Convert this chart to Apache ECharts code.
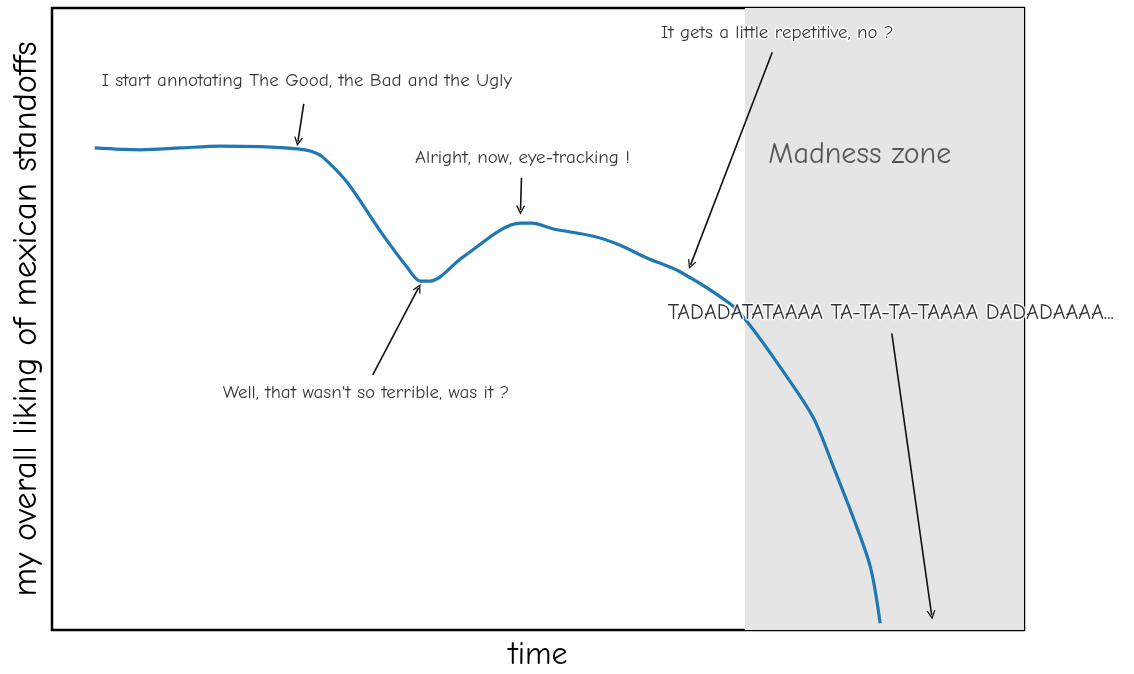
<!DOCTYPE html>
<html>
<head>
<meta charset="utf-8">
<script src="https://cdn.jsdelivr.net/npm/echarts@6/dist/echarts.min.js"></script>
<style>
html,body{margin:0;padding:0;background:#fff;}
#chart{width:1134px;height:674px;}
</style>
</head>
<body>
<div id="chart"></div>
<script>
// ---- data ----
const timeValues = [4.4, 9.1, 13.2, 17.3, 21.4, 25.5, 26.8, 27.8, 30.4, 33.7, 36.5, 37.9, 38.9, 42.3, 48.2, 49.4, 51.5, 55.7, 58.4, 61.2, 64.6, 69.8, 71.6, 74.9, 78.3, 80.4, 82.4, 84.2, 85.2];
const likingValues = [77.5, 77.2, 77.5, 77.8, 77.7, 77.3, 76.9, 76.1, 71.9, 64.3, 58.4, 56.1, 56.1, 60.0, 65.4, 65.4, 64.5, 63.3, 61.9, 59.8, 57.6, 52.4, 49.4, 42.3, 34.2, 26.2, 18.2, 10.1, 1.1];
const madnessStart = 71.3;
const madnessEnd = 100;
const madnessLabel = 'Madness zone';
const madnessLabelPos = [83.1, 76.4];

const noteTexts = [
  'I start annotating The Good, the Bad and the Ugly',
  'Alright, now, eye-tracking !',
  "Well, that wasn't so terrible, was it ?",
  'It gets a little repetitive, no ?',
  'TADADATATAAAA TA-TA-TA-TAAAA DADADAAAA...'
];
const noteX = [26.2, 48.4, 32.3, 74.6, 86.3];
const noteY = [88.4, 75.9, 38.1, 96.0, 51.0];
const arrowFromX = [25.9, 48.3, 33.0, 74.1, 86.4];
const arrowFromY = [84.6, 72.7, 41.0, 92.9, 47.7];
const arrowToX = [25.3, 48.2, 37.7, 65.7, 90.5];
const arrowToY = [78.5, 67.5, 55.0, 58.7, 2.4];

const xTitle = 'time';
const yTitle = 'my overall liking of mexican standoffs';

// ---- chart ----
const FONT = '"Comic Sans MS", "Comic Neue", "Humor Sans", Lato, sans-serif';
const chevron = 'path://M0,10 L5,0 L10,10 L8.4,10 L5,3.2 L1.6,10 Z';

const linePoints = timeValues.map((t, i) => [t, likingValues[i]]);

const noteData = noteTexts.map((txt, i) => ({ value: [noteX[i], noteY[i]], name: txt }));
noteData[4].label = { fontSize: 22 };
noteData.push({
  value: madnessLabelPos, name: madnessLabel,
  label: { fontSize: 30, color: '#333', textBorderWidth: 0 }
});

const arrowData = noteTexts.map((_, i) => ({
  coords: [[arrowFromX[i], arrowFromY[i]], [arrowToX[i], arrowToY[i]]]
}));

const chart = echarts.init(document.getElementById('chart'));
chart.setOption({
  animation: false,
  backgroundColor: '#fff',
  textStyle: { fontFamily: FONT },
  grid: {
    left: 52, right: 110, top: 8, bottom: 44,
    outerBoundsMode: 'none', containLabel: false,
    show: true, borderColor: '#000', borderWidth: 2.5, backgroundColor: 'transparent'
  },
  xAxis: {
    type: 'value', min: 0, max: 100,
    name: xTitle, nameLocation: 'middle', nameGap: 9,
    nameTextStyle: { fontSize: 32, color: '#000', fontFamily: FONT, verticalAlign: 'top' },
    axisLine: { show: false }, axisTick: { show: false }, axisLabel: { show: false },
    splitLine: { show: false }
  },
  yAxis: {
    type: 'value', min: 0, max: 100,
    name: yTitle, nameLocation: 'middle', nameGap: 8,
    nameTextStyle: { fontSize: 34.5, color: '#000', fontFamily: FONT, verticalAlign: 'bottom' },
    axisLine: { show: false }, axisTick: { show: false }, axisLabel: { show: false },
    splitLine: { show: false }
  },
  series: [
    {
      type: 'line',
      data: linePoints,
      smooth: 0.3,
      symbol: 'none',
      z: 3,
      lineStyle: { color: '#1f77b4', width: 3.2 },
      markArea: {
        silent: true,
        itemStyle: { color: '#e5e5e5' },
        data: [[{ xAxis: madnessStart }, { xAxis: madnessEnd }]]
      }
    },
    {
      type: 'lines',
      coordinateSystem: 'cartesian2d',
      z: 4,
      silent: true,
      symbol: ['none', chevron],
      symbolSize: [1, 9],
      lineStyle: { color: '#111', width: 1.6, opacity: 1, curveness: 0 },
      data: arrowData
    },
    {
      type: 'scatter',
      z: 5,
      silent: true,
      symbolSize: 0,
      data: noteData,
      label: {
        show: true, position: 'inside',
        formatter: p => p.name,
        fontSize: 19, color: '#000', fontFamily: FONT,
        textBorderColor: '#fff', textBorderWidth: 3
      }
    }
  ]
});
</script>
</body>
</html>
